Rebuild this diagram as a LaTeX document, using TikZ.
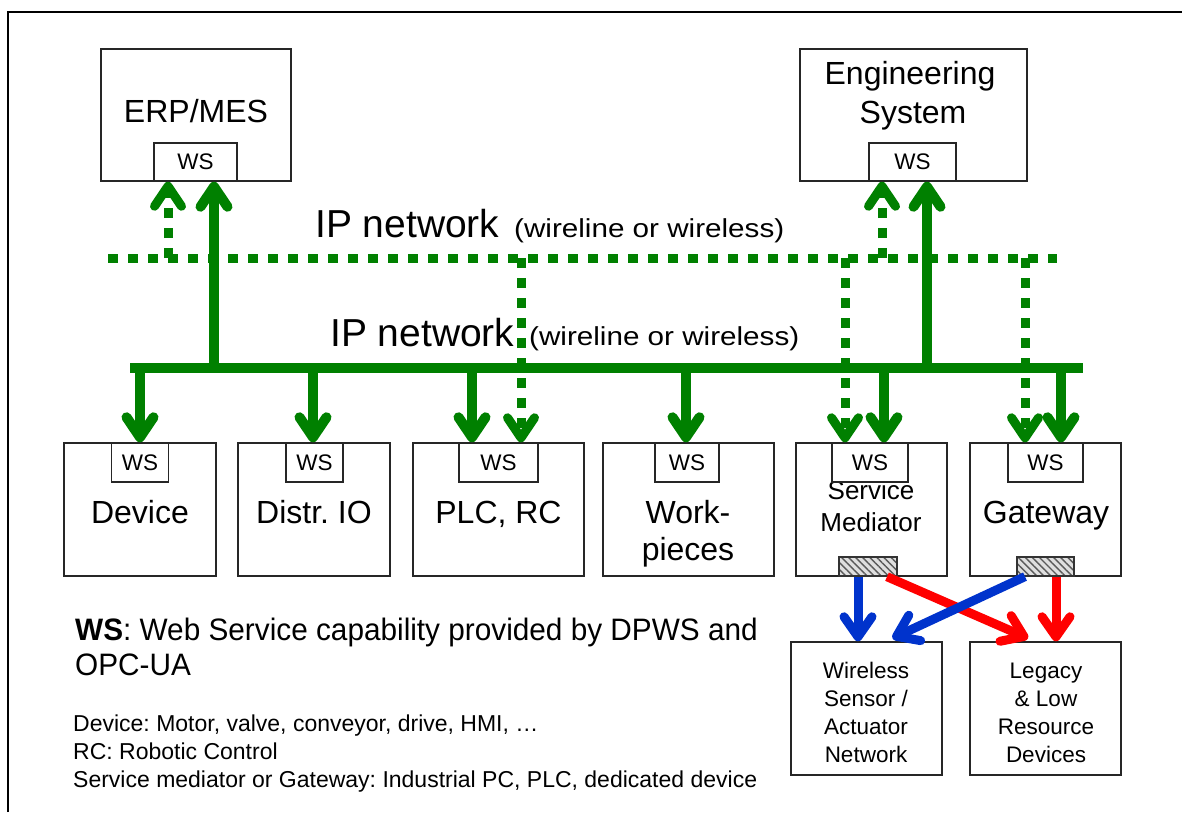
\documentclass[tikz,border=0pt]{standalone}
\usepackage{fontspec}
\setmainfont{Liberation Sans}
\newfontfamily\widesans[FakeStretch=1.14]{Liberation Sans}
\newfontfamily\narrowsans[FakeStretch=0.96]{Liberation Sans}
\usetikzlibrary{arrows.meta,patterns.meta}
\frenchspacing

\definecolor{netgreen}{RGB}{0,128,0}
\definecolor{linkblue}{RGB}{0,51,204}
\definecolor{linkred}{RGB}{255,0,0}

\newcommand\setfs[1]{\fontsize{#1}{#1}\selectfont}

\begin{document}
\begin{tikzpicture}[x=1pt, y=-1pt,
  unit/.style={draw=black!85, line width=1.5pt, inner sep=0pt, fill=white},
  wsbox/.style={unit, font=\setfs{22.5}},
  lbl/.style={anchor=base, inner sep=0pt, font=\setfs{32}},
  smalllbl/.style={anchor=base, inner sep=0pt, font=\setfs{22.5}},
  legend/.style={anchor=base west, inner sep=0pt},
  bus/.style={draw=netgreen, line width=10pt},
  dotnet/.style={draw=netgreen, line width=9pt, dash pattern=on 10pt off 10pt},
  tipg/.style={-{Straight Barb[length=20pt,width=27pt,round]}},
  link/.style={line width=9pt, -{Straight Barb[length=20pt,width=28pt,round]}},
  hatch/.style={draw=black!80, line width=1.2pt, inner sep=0pt,
    preaction={fill=gray!25},
    pattern={Lines[angle=-45, distance=5pt, line width=1.4pt]},
    pattern color=black!65},
]
\useasboundingbox (0,0) rectangle (1182,812);

% page frame
\coordinate (frame) at (8,12);
\draw[line width=2pt] (frame |- 0,812) -- (frame) -- (1182,12);

% enterprise level systems
\node[unit, minimum width=190pt, minimum height=132pt] (erp) at (196,115) {};
\node[wsbox, minimum width=83pt, minimum height=38pt] (erpws) at (195.5,162) {WS};
\node[lbl] (erpt) at (196,122) {ERP/MES};

\node[unit, minimum width=227pt, minimum height=132pt] (eng) at (913.5,115) {};
\node[wsbox, minimum width=87pt, minimum height=38pt] (engws) at (912.5,162) {WS};
\node[lbl] (engt1) at (910,84) {Engineering};
\node[lbl] (engt2) at (913,123) {System};

% field level units
\node[unit, minimum width=152pt, minimum height=133pt] (dev) at (140,509.5) {};
\node[wsbox, minimum width=57pt, minimum height=39pt] (devws) at (140,462.5) {WS};
\node[lbl] (devt) at (140,523) {Device};

\node[unit, minimum width=152pt, minimum height=133pt] (dio) at (314,509.5) {};
\node[wsbox, minimum width=57pt, minimum height=39pt] (diows) at (314.5,462.5) {WS};
\node[lbl] (diot) at (314,523) {Distr. IO};

\node[unit, minimum width=171pt, minimum height=133pt] (plc) at (498.5,509.5) {};
\node[wsbox, minimum width=79pt, minimum height=39pt] (plcws) at (498.5,462.5) {WS};
\node[lbl] (plct) at (498.5,523) {PLC, RC};

\node[unit, minimum width=171pt, minimum height=133pt] (wp) at (688.5,509.5) {};
\node[wsbox, minimum width=64pt, minimum height=39pt] (wpws) at (687,462.5) {WS};
\node[lbl] (wpt1) at (688,523) {Work-};
\node[lbl] (wpt2) at (688,560) {pieces};

\node[unit, minimum width=151pt, minimum height=133pt] (sm) at (871.5,509.5) {};
\node[lbl, font=\setfs{26}] (smt1) at (871,499) {Service};
\node[lbl, font=\setfs{26}] (smt2) at (871,531) {Mediator};
\node[wsbox, minimum width=76pt, minimum height=39pt] (smws) at (870,462.5) {WS};
\node[hatch, minimum width=58pt, minimum height=19pt] (smh) at (868,566.5) {};

\node[unit, minimum width=151pt, minimum height=133pt] (gw) at (1045.5,509.5) {};
\node[wsbox, minimum width=75pt, minimum height=39pt] (gwws) at (1045.5,462.5) {WS};
\node[lbl] (gwt) at (1046,523) {Gateway};
\node[hatch, minimum width=57pt, minimum height=19pt] (gwh) at (1045.5,566.5) {};

% non-IP device groups
\node[unit, minimum width=151pt, minimum height=133pt] (wsan) at (866.5,708.5) {};
\node[smalllbl] (wsant1) at (866,678) {Wireless};
\node[smalllbl] (wsant2) at (866,706) {Sensor /};
\node[smalllbl] (wsant3) at (866,734) {Actuator};
\node[smalllbl] (wsant4) at (866,762) {Network};

\node[unit, minimum width=151pt, minimum height=133pt] (leg) at (1045.5,708.5) {};
\node[smalllbl] (legt1) at (1046,678) {Legacy};
\node[smalllbl] (legt2) at (1046,706) {\& Low};
\node[smalllbl] (legt3) at (1046,734) {Resource};
\node[smalllbl] (legt4) at (1046,762) {Devices};

% network labels
\node[legend, font=\setfs{39}] (ip1) at (315,237) {IP network};
\node[legend, font=\widesans\setfs{26}] (ip1b) at (514,237) {(wireline or wireless)};
\node[legend, font=\setfs{39}] (ip2) at (330,346) {IP network};
\node[legend, font=\widesans\setfs{26}] (ip2b) at (529,345) {(wireline or wireless)};

% wireline / wireless network (dotted)
\coordinate (dotL) at (108,258);
\coordinate (dotR) at (1057,258);
\draw[dotnet] (dotL) -- (dotR);
\foreach \x/\tgt in {168/erp, 882/eng}
  \draw[dotnet, tipg] (\x,258) -- (\x,258 |- \tgt.south);
\foreach \x/\tgt in {521/plc, 845/sm, 1025/gw}
  \draw[dotnet, tipg] (\x,258) -- (\x,258 |- \tgt.north);

% wired IP bus
\coordinate (busL) at (130,368);
\coordinate (busR) at (1083,368);
\draw[bus] (busL) -- (busR);
\foreach \x/\tgt in {214/erp, 927/eng}
  \draw[bus, tipg] (\x,368) -- (\x,368 |- \tgt.south);
\foreach \x/\tgt in {140/dev, 313/dio, 472/plc, 686/wp, 884/sm, 1061/gw}
  \draw[bus, tipg] (\x,368) -- (\x,368 |- \tgt.north);

% legacy links from mediator and gateway
\draw[link, draw=linkred] ([xshift=19pt]smh.south) -- ([xshift=-17.5pt,yshift=3pt]leg.north);
\draw[link, draw=linkred] ([xshift=10.5pt]gwh.south) -- ([xshift=10.5pt]leg.north);
\draw[link, draw=linkblue] ([xshift=-10pt]smh.south) -- ([xshift=-8.5pt]wsan.north);
\draw[link, draw=linkblue] ([xshift=-20.5pt]gwh.south) -- ([xshift=26pt,yshift=3pt]wsan.north);

% legend
\node[legend, font=\narrowsans\setfs{31}] (lg1) at (75,640) {\textbf{WS}: Web Service capability provided by DPWS and};
\node[legend, font=\narrowsans\setfs{31}] (lg2) at (75,675) {OPC-UA};
\node[legend, font=\setfs{23}] (lg3) at (73,731) {Device: Motor, valve, conveyor, drive, HMI, …};
\node[legend, font=\setfs{23}] (lg4) at (73,759) {RC: Robotic Control};
\node[legend, font=\setfs{23}] (lg5) at (73,787) {Service mediator or Gateway: Industrial PC, PLC, dedicated device};
\end{tikzpicture}
\end{document}
